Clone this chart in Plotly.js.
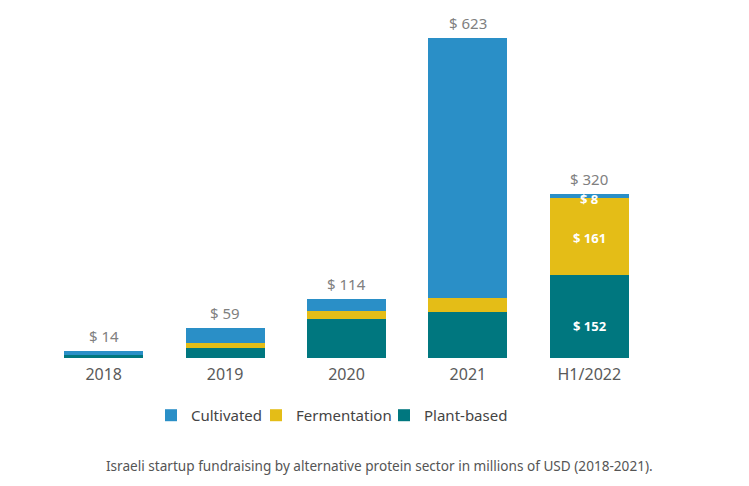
<!DOCTYPE html>
<html>
<head>
<meta charset="utf-8">
<script src="https://cdn.plot.ly/plotly-3.0.1.min.js"></script>
<style>html,body{margin:0;padding:0;background:#fff;}#chart{width:749px;height:486px;}</style>
</head>
<body>
<div id="chart"></div>
<script>
const categories = ["2018", "2019", "2020", "2021", "H1/2022"];
const cultivated = [8, 29, 22, 506, 8];
const fermentation = [0, 10, 17, 27, 150];
const plantBased = [6, 20, 75, 90, 162];
const totals = [14, 59, 114, 623, 320];
const totalLabels = ["$ 14", "$ 59", "$ 114", "$ 623", "$ 320"];
const cultivatedLabels = ["", "", "", "", "$ 8"];
const fermentationLabels = ["", "", "", "", "$ 161"];
const plantLabels = ["", "", "", "", "$ 152"];
const caption = "Israeli startup fundraising by alternative protein sector in millions of USD (2018-2021).";

const FONT = "Noto Sans, Open Sans, sans-serif";
const COL_CULT = "#2a8fc7";
const COL_FERM = "#e4bd17";
const COL_PLANT = "#00777f";

const traces = [
  {type: "bar", name: "Plant-based", x: categories, y: plantBased, marker: {color: COL_PLANT},
   textposition: "none", hoverinfo: "none", legend: "legend3"},
  {type: "bar", name: "Fermentation", x: categories, y: fermentation, marker: {color: COL_FERM},
   textposition: "none", hoverinfo: "none", legend: "legend2"},
  {type: "bar", name: "Cultivated", x: categories, y: cultivated, marker: {color: COL_CULT},
   textposition: "none", hoverinfo: "none", legend: "legend"}
];

const annotations = [];
const whiteFont = {color: "#ffffff", size: 13, family: FONT, weight: 700};
// x given as category index so numeric-looking names ("2018") are not misread
const dataAnn = (i, y, text, yshift, font) => ({x: i, y: y, xref: "x", yref: "y", text: text,
  showarrow: false, xanchor: "center", yanchor: "middle", yshift: yshift, font: font});
categories.forEach((c, i) => {
  annotations.push(dataAnn(i, totals[i], totalLabels[i], 15, {color: "#808080", size: 15, family: FONT}));
  if (plantLabels[i]) annotations.push(dataAnn(i, plantBased[i] / 2, plantLabels[i], -10, whiteFont));
  if (fermentationLabels[i]) annotations.push(dataAnn(i, plantBased[i] + fermentation[i] / 2, fermentationLabels[i], -2, whiteFont));
  if (cultivatedLabels[i]) annotations.push(dataAnn(i, totals[i], cultivatedLabels[i], -5, whiteFont));
});
annotations.push({text: caption, xref: "paper", yref: "paper", x: 0.555, y: -0.317,
                  xanchor: "center", yanchor: "middle", showarrow: false,
                  font: {size: 13.6, color: "#555555", family: FONT}});

const px = v => (v - 43) / 607;
const legFont = {size: 15, color: "#444444", family: FONT};
const legBase = {orientation: "h", y: -0.17, yanchor: "middle", xanchor: "left", font: legFont,
                 itemwidth: 30, itemclick: false, itemdoubleclick: false, bgcolor: "rgba(0,0,0,0)"};

const layout = {
  width: 749, height: 486,
  margin: {l: 43, r: 99, t: 20, b: 128},
  barmode: "stack",
  bargap: 0.35,
  paper_bgcolor: "#ffffff",
  plot_bgcolor: "#ffffff",
  font: {family: FONT, color: "#555555"},
  xaxis: {type: "category", categoryorder: "array", categoryarray: categories, range: [-0.5, 4.5],
          showgrid: false, zeroline: false, showline: false, ticks: "",
          tickfont: {size: 16, color: "#5a5a5a", family: FONT}, ticklabelstandoff: 5},
  yaxis: {range: [0, 658], visible: false, showgrid: false, zeroline: false},
  showlegend: true,
  legend: Object.assign({}, legBase, {x: px(151)}),
  legend2: Object.assign({}, legBase, {x: px(256)}),
  legend3: Object.assign({}, legBase, {x: px(384)}),
  annotations: annotations
};

Plotly.newPlot("chart", traces, layout, {displayModeBar: false, staticPlot: true});
</script>
</body>
</html>
